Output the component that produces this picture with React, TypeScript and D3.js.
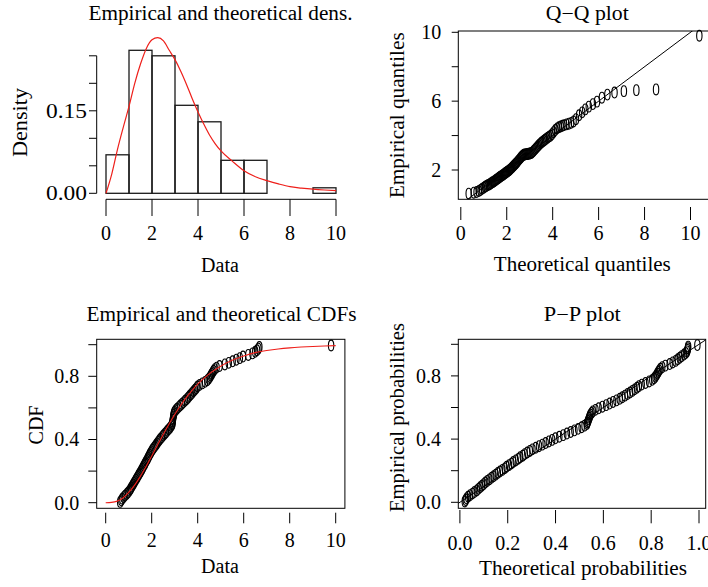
import React from "react";
import * as d3 from "d3";

// ---------------- data ----------------
const sample: number[] = [
  0.63, 0.68, 0.72, 0.78, 0.84, 0.91, 0.97,
  1.03, 1.07, 1.11, 1.15, 1.19, 1.23, 1.27, 1.31, 1.35, 1.39, 1.43, 1.47, 1.51,
  1.55, 1.59, 1.62, 1.66, 1.7, 1.73, 1.77, 1.81, 1.84, 1.88, 1.91, 1.95, 1.99,
  2.03, 2.08, 2.13, 2.18, 2.23, 2.28, 2.33, 2.38, 2.44, 2.5, 2.56, 2.62, 2.68,
  2.74, 2.8, 2.85, 2.89, 2.9, 2.91, 2.92, 2.93, 2.94, 2.95, 2.97, 2.99,
  3.04, 3.1, 3.17, 3.24, 3.31, 3.38, 3.45, 3.52, 3.58, 3.64, 3.7, 3.76, 3.82,
  3.88, 3.94, 3.99,
  4.08, 4.2, 4.32, 4.42, 4.48, 4.53, 4.57, 4.61, 4.65, 4.69, 4.74, 4.82, 4.95,
  5.18, 5.35, 5.52, 5.68, 5.83, 5.97,
  6.2, 6.38, 6.5, 6.58, 6.64, 6.68,
  9.8,
];

const histBreaks = [0, 1, 2, 3, 4, 5, 6, 7, 8, 9, 10];

// fitted (theoretical) density
const densGridX = [0, 0.25, 0.5, 0.75, 1, 1.25, 1.5, 1.75, 2, 2.25, 2.5, 2.75, 3, 3.25, 3.5, 3.75, 4, 4.25, 4.5, 4.75, 5, 5.5, 6, 6.5, 7, 7.5, 8, 8.5, 9, 9.5, 10];
const densGridY = [0, 0.035, 0.08, 0.12, 0.158, 0.2, 0.235, 0.263, 0.279, 0.283, 0.277, 0.26, 0.243, 0.222, 0.198, 0.172, 0.148, 0.126, 0.106, 0.09, 0.077, 0.058, 0.041, 0.03, 0.023, 0.017, 0.012, 0.0095, 0.0075, 0.006, 0.0048];

const cdfGridX = [0, 0.25, 0.5, 0.75, 1, 1.25, 1.5, 1.75, 2, 2.25, 2.5, 2.75, 3, 3.25, 3.5, 3.75, 4, 4.5, 5, 5.5, 6, 6.5, 7, 7.5, 8, 8.5, 9, 9.5, 10, 10.5, 11, 12];
const cdfGridY = [0, 0.002, 0.01, 0.03, 0.065, 0.11, 0.165, 0.228, 0.295, 0.364, 0.432, 0.497, 0.558, 0.614, 0.665, 0.71, 0.75, 0.815, 0.864, 0.901, 0.929, 0.95, 0.963, 0.973, 0.98, 0.985, 0.989, 0.992, 0.994, 0.9953, 0.9963, 0.998];

const dataTicks = [0, 2, 4, 6, 8, 10];
const densTicks = [0, 0.05, 0.1, 0.15, 0.2, 0.25];
const densTickLabels = ["0.00", "", "", "0.15", "", ""];
const qqYTicks = [2, 4, 6, 8, 10];
const qqYTickLabels = ["2", "", "6", "", "10"];
const probTicks = [0, 0.2, 0.4, 0.6, 0.8, 1.0];
const probTickLabels = ["0.0", "", "0.4", "", "0.8", ""];
const probXLabels = ["0.0", "0.2", "0.4", "0.6", "0.8", "1.0"];

const titles = ["Empirical and theoretical dens.", "Q\u2212Q plot", "Empirical and theoretical CDFs", "P\u2212P plot"];

// ---------------- derived ----------------
const n = sample.length;
const obsP = sample.map((_, i) => (i + 0.5) / n);
const cdfAt = d3.scaleLinear().domain(cdfGridX).range(cdfGridY).clamp(true);
const quantAt = d3.scaleLinear().domain(cdfGridY).range(cdfGridX).clamp(true);
const qqTheo = obsP.map((p) => quantAt(p));
const ppTheo = sample.map((v) => cdfAt(v));

const bins = d3.bin().domain([0, 10]).thresholds(histBreaks.slice(1, -1))(sample);

// ---------------- style ----------------
const FONT = "'Liberation Serif', 'Times New Roman', serif";
const FS = 20;
const RED = "#ee1f1a";
const RX = 2.7;
const RY = 5.4;

function T(props: { x: number; y: number; children: any; anchor?: string; len?: number; rot?: boolean }) {
  const { x, y, children, anchor = "middle", len, rot } = props;
  const extra: any = len ? { textLength: len, lengthAdjust: "spacingAndGlyphs" } : {};
  if (rot) {
    return (
      <text transform={`translate(${x},${y}) rotate(-90)`} textAnchor={anchor} fontFamily={FONT} fontSize={FS} fill="#000" {...extra}>
        {children}
      </text>
    );
  }
  return (
    <text x={x} y={y} textAnchor={anchor} fontFamily={FONT} fontSize={FS} fill="#000" {...extra}>
      {children}
    </text>
  );
}

function Pts({ xs, ys, sx, sy }: { xs: number[]; ys: number[]; sx: any; sy: any }) {
  return (
    <g fill="none" stroke="#000" strokeWidth={1.1}>
      {xs.map((v, i) => (
        <ellipse key={i} cx={sx(v)} cy={sy(ys[i])} rx={RX} ry={RY} />
      ))}
    </g>
  );
}

// ---------------- panels ----------------
function DensPanel() {
  const x = d3.scaleLinear().domain([0, 10]).range([106, 336]);
  const y = d3.scaleLinear().domain([0, 0.25]).range([193.3, 55.8]);
  const axisY = 199.3;
  const axisX = 96.7;
  const line = d3
    .line<number>()
    .x((d) => x(d))
    .y((_, i) => y(densGridY[i]))
    .curve(d3.curveMonotoneX);
  return (
    <g>
      <T x={220.5} y={20} len={264}>{titles[0]}</T>
      {bins.map((b, i) => {
        const d = b.length / (n * ((b.x1 as number) - (b.x0 as number)));
        return (
          <rect key={i} x={x(b.x0 as number)} y={y(d)} width={x(b.x1 as number) - x(b.x0 as number)} height={y(0) - y(d)} fill="none" stroke="#1a1a1a" strokeWidth={1.3} />
        );
      })}
      <path d={line(densGridX) || ""} fill="none" stroke={RED} strokeWidth={1.2} />
      <line x1={axisX} x2={axisX} y1={y(0)} y2={y(0.25)} stroke="#000" />
      {densTicks.map((t, i) => (
        <g key={i}>
          <line x1={89} x2={axisX} y1={y(t)} y2={y(t)} stroke="#000" />
          {densTickLabels[i] && <T x={87} y={y(t) + 6.8} anchor="end" len={41}>{densTickLabels[i]}</T>}
        </g>
      ))}
      <line x1={x(0)} x2={x(10)} y1={axisY} y2={axisY} stroke="#000" />
      {dataTicks.map((t) => (
        <g key={t}>
          <line x1={x(t)} x2={x(t)} y1={axisY} y2={216} stroke="#000" />
          <T x={x(t)} y={240}>{String(t)}</T>
        </g>
      ))}
      <T x={220} y={272}>Data</T>
      <T x={26.7} y={122.5} rot len={69}>Density</T>
    </g>
  );
}

function QQPanel() {
  const x = d3.scaleLinear().domain([0, 10]).range([460.8, 690.5]);
  const y = d3.scaleLinear().domain([2, 10]).range([170, 32.3]);
  const box = { x0: 458.3, x1: 710, y0: 31, y1: 199.3 };
  return (
    <g>
      <defs>
        <clipPath id="qqclip">
          <rect x={box.x0} y={box.y0} width={box.x1 - box.x0} height={box.y1 - box.y0} />
        </clipPath>
      </defs>
      <T x={587.3} y={19.5} len={83}>{titles[1]}</T>
      <Pts xs={qqTheo} ys={sample} sx={x} sy={y} />
      <line x1={x(-1)} y1={y(-1)} x2={x(12)} y2={y(12)} stroke="#000" strokeWidth={1} clipPath="url(#qqclip)" />
      <rect x={box.x0} y={box.y0} width={box.x1 - box.x0} height={box.y1 - box.y0} fill="none" stroke="#000" />
      {qqYTicks.map((t, i) => (
        <g key={t}>
          <line x1={451.7} x2={box.x0} y1={y(t)} y2={y(t)} stroke="#000" />
          {qqYTickLabels[i] && <T x={441.3} y={y(t) + 6.8} anchor="end">{qqYTickLabels[i]}</T>}
        </g>
      ))}
      {dataTicks.map((t) => (
        <g key={t}>
          <line x1={x(t)} x2={x(t)} y1={207} y2={220} stroke="#000" />
          <T x={x(t)} y={240}>{String(t)}</T>
        </g>
      ))}
      <T x={582.3} y={270.7} len={177}>Theoretical quantiles</T>
      <T x={404} y={115.3} rot len={166}>Empirical quantiles</T>
    </g>
  );
}

function CDFPanel() {
  const x = d3.scaleLinear().domain([0, 10]).range([105.7, 335.7]);
  const y = d3.scaleLinear().domain([0, 1]).range([502.7, 344.7]);
  const box = { x0: 96.7, x1: 344.9, y0: 339.3, y1: 508.3 };
  const idx = cdfGridX.map((_, i) => i).filter((i) => cdfGridX[i] <= 10);
  const cline = d3
    .line<number>()
    .x((i) => x(cdfGridX[i]))
    .y((i) => y(cdfGridY[i]))
    .curve(d3.curveMonotoneX);
  return (
    <g>
      <T x={221.5} y={321} len={270}>{titles[2]}</T>
      <Pts xs={sample} ys={obsP} sx={x} sy={y} />
      <path d={cline(idx) || ""} fill="none" stroke={RED} strokeWidth={1.1} />
      <rect x={box.x0} y={box.y0} width={box.x1 - box.x0} height={box.y1 - box.y0} fill="none" stroke="#000" />
      {probTicks.map((t, i) => (
        <g key={t}>
          <line x1={88.3} x2={box.x0} y1={y(t)} y2={y(t)} stroke="#000" />
          {probTickLabels[i] && <T x={79.3} y={y(t) + 6.8} anchor="end">{probTickLabels[i]}</T>}
        </g>
      ))}
      {dataTicks.map((t) => (
        <g key={t}>
          <line x1={x(t)} x2={x(t)} y1={512.7} y2={523.3} stroke="#000" />
          <T x={x(t)} y={546.7}>{String(t)}</T>
        </g>
      ))}
      <T x={220} y={573}>Data</T>
      <T x={42.7} y={425} rot>CDF</T>
    </g>
  );
}

function PPPanel() {
  const x = d3.scaleLinear().domain([0, 1]).range([459.9, 699]);
  const y = d3.scaleLinear().domain([0, 1]).range([502.3, 344.3]);
  const box = { x0: 458.3, x1: 705.7, y0: 339.3, y1: 508.3 };
  return (
    <g>
      <defs>
        <clipPath id="ppclip">
          <rect x={box.x0} y={box.y0} width={box.x1 - box.x0} height={box.y1 - box.y0} />
        </clipPath>
      </defs>
      <T x={582.3} y={321} len={77}>{titles[3]}</T>
      <Pts xs={ppTheo} ys={obsP} sx={x} sy={y} />
      <line x1={x(-0.2)} y1={y(-0.2)} x2={x(1.2)} y2={y(1.2)} stroke="#000" strokeWidth={1} clipPath="url(#ppclip)" />
      <rect x={box.x0} y={box.y0} width={box.x1 - box.x0} height={box.y1 - box.y0} fill="none" stroke="#000" />
      {probTicks.map((t, i) => (
        <g key={t}>
          <line x1={451} x2={box.x0} y1={y(t)} y2={y(t)} stroke="#000" />
          {probTickLabels[i] && <T x={441} y={y(t) + 6.8} anchor="end">{probTickLabels[i]}</T>}
        </g>
      ))}
      {probTicks.map((t, i) => (
        <g key={t}>
          <line x1={x(t)} x2={x(t)} y1={510} y2={523.3} stroke="#000" />
          <T x={x(t)} y={550}>{probXLabels[i]}</T>
        </g>
      ))}
      <T x={583} y={575} len={208}>Theoretical probabilities</T>
      <T x={404} y={417.5} rot len={189}>Empirical probabilities</T>
    </g>
  );
}

export default function App() {
  return (
    <svg
      width={708}
      height={587}
      viewBox="0 0 708 587"
      style={{ position: "fixed", left: 0, top: 0, background: "#fff", display: "block" }}
    >
      <rect x={0} y={0} width={708} height={587} fill="#fff" />
      <DensPanel />
      <QQPanel />
      <CDFPanel />
      <PPPanel />
    </svg>
  );
}
